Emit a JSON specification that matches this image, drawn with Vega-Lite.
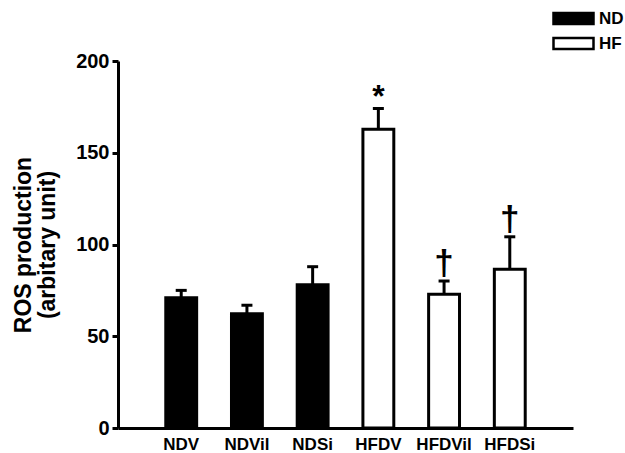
{
  "$schema": "https://vega.github.io/schema/vega-lite/v6.json",
  "width": 455,
  "height": 367,
  "autosize": {"type": "none"},
  "padding": {"left": 118, "top": 61, "right": 52, "bottom": 25},
  "background": "white",
  "config": {
    "view": {"stroke": null},
    "font": "Liberation Sans",
    "axis": {"labelFont": "Liberation Sans", "titleFont": "Liberation Sans", "labelFontWeight": "bold", "labelColor": "black", "titleColor": "black", "domainColor": "black", "tickColor": "black", "grid": false}
  },
  "data": {
    "values": [
      {"cond": "NDV", "group": "ND", "value": 71.0, "hi": 75.0, "sig": ""},
      {"cond": "NDVil", "group": "ND", "value": 62.2, "hi": 66.9, "sig": ""},
      {"cond": "NDSi", "group": "ND", "value": 78.1, "hi": 87.9, "sig": ""},
      {"cond": "HFDV", "group": "HF", "value": 162.8, "hi": 174.1, "sig": "*"},
      {"cond": "HFDVil", "group": "HF", "value": 72.9, "hi": 80.1, "sig": "†"},
      {"cond": "HFDSi", "group": "HF", "value": 86.5, "hi": 104.2, "sig": "†"}
    ]
  },
  "encoding": {
    "x": {
      "field": "cond", "type": "nominal", "sort": null,
      "scale": {"paddingInner": 0.53, "paddingOuter": 0.727},
      "axis": {"title": null, "labelAngle": 0, "ticks": false, "domainWidth": 3, "labelFontSize": 17, "labelPadding": 8}
    }
  },
  "layer": [
    {
      "mark": {"type": "bar", "stroke": "black", "strokeWidth": 3},
      "encoding": {
        "y": {
          "field": "value", "type": "quantitative",
          "scale": {"domain": [0, 200], "nice": false},
          "axis": {
            "title": ["ROS production", "(arbitary unit)"],
            "titleFontSize": 23, "titleFontWeight": "bold", "titleLineHeight": 24,
            "values": [0, 50, 100, 150, 200],
            "labelFontSize": 20, "tickSize": 6, "tickWidth": 3, "domainWidth": 3,
            "labelPadding": 3, "titlePadding": 16
          }
        },
        "fill": {
          "field": "group", "type": "nominal",
          "scale": {"domain": ["ND", "HF"], "range": ["black", "white"]},
          "legend": {
            "orient": "none", "legendX": 462, "legendY": -51, "title": null,
            "symbolType": "M-7,-1.1H1V1.1H-7Z", "symbolSize": 100,
            "symbolStrokeColor": "black", "symbolStrokeWidth": 2.5,
            "labelFontSize": 17, "labelFontWeight": "bold", "labelFont": "Liberation Sans",
            "labelColor": "black", "labelOffset": 2, "rowPadding": 4, "padding": 0
          }
        }
      }
    },
    {
      "mark": {"type": "rule", "strokeWidth": 3, "color": "black"},
      "encoding": {
        "y": {"field": "value", "type": "quantitative"},
        "y2": {"field": "hi"}
      }
    },
    {
      "mark": {"type": "tick", "size": 11, "thickness": 3, "color": "black", "opacity": 1},
      "encoding": {"y": {"field": "hi", "type": "quantitative"}}
    },
    {
      "transform": [{"filter": "datum.sig == '*'"}],
      "mark": {"type": "text", "fontSize": 32, "fontWeight": "bold", "font": "Liberation Sans", "color": "black", "baseline": "alphabetic", "dy": -2},
      "encoding": {"y": {"field": "hi", "type": "quantitative"}, "text": {"field": "sig"}}
    },
    {
      "transform": [{"filter": "datum.sig == '†'"}],
      "mark": {"type": "text", "fontSize": 35, "fontWeight": "bold", "font": "Liberation Sans", "color": "black", "baseline": "alphabetic", "dy": -6},
      "encoding": {"y": {"field": "hi", "type": "quantitative"}, "text": {"field": "sig"}}
    }
  ]
}
